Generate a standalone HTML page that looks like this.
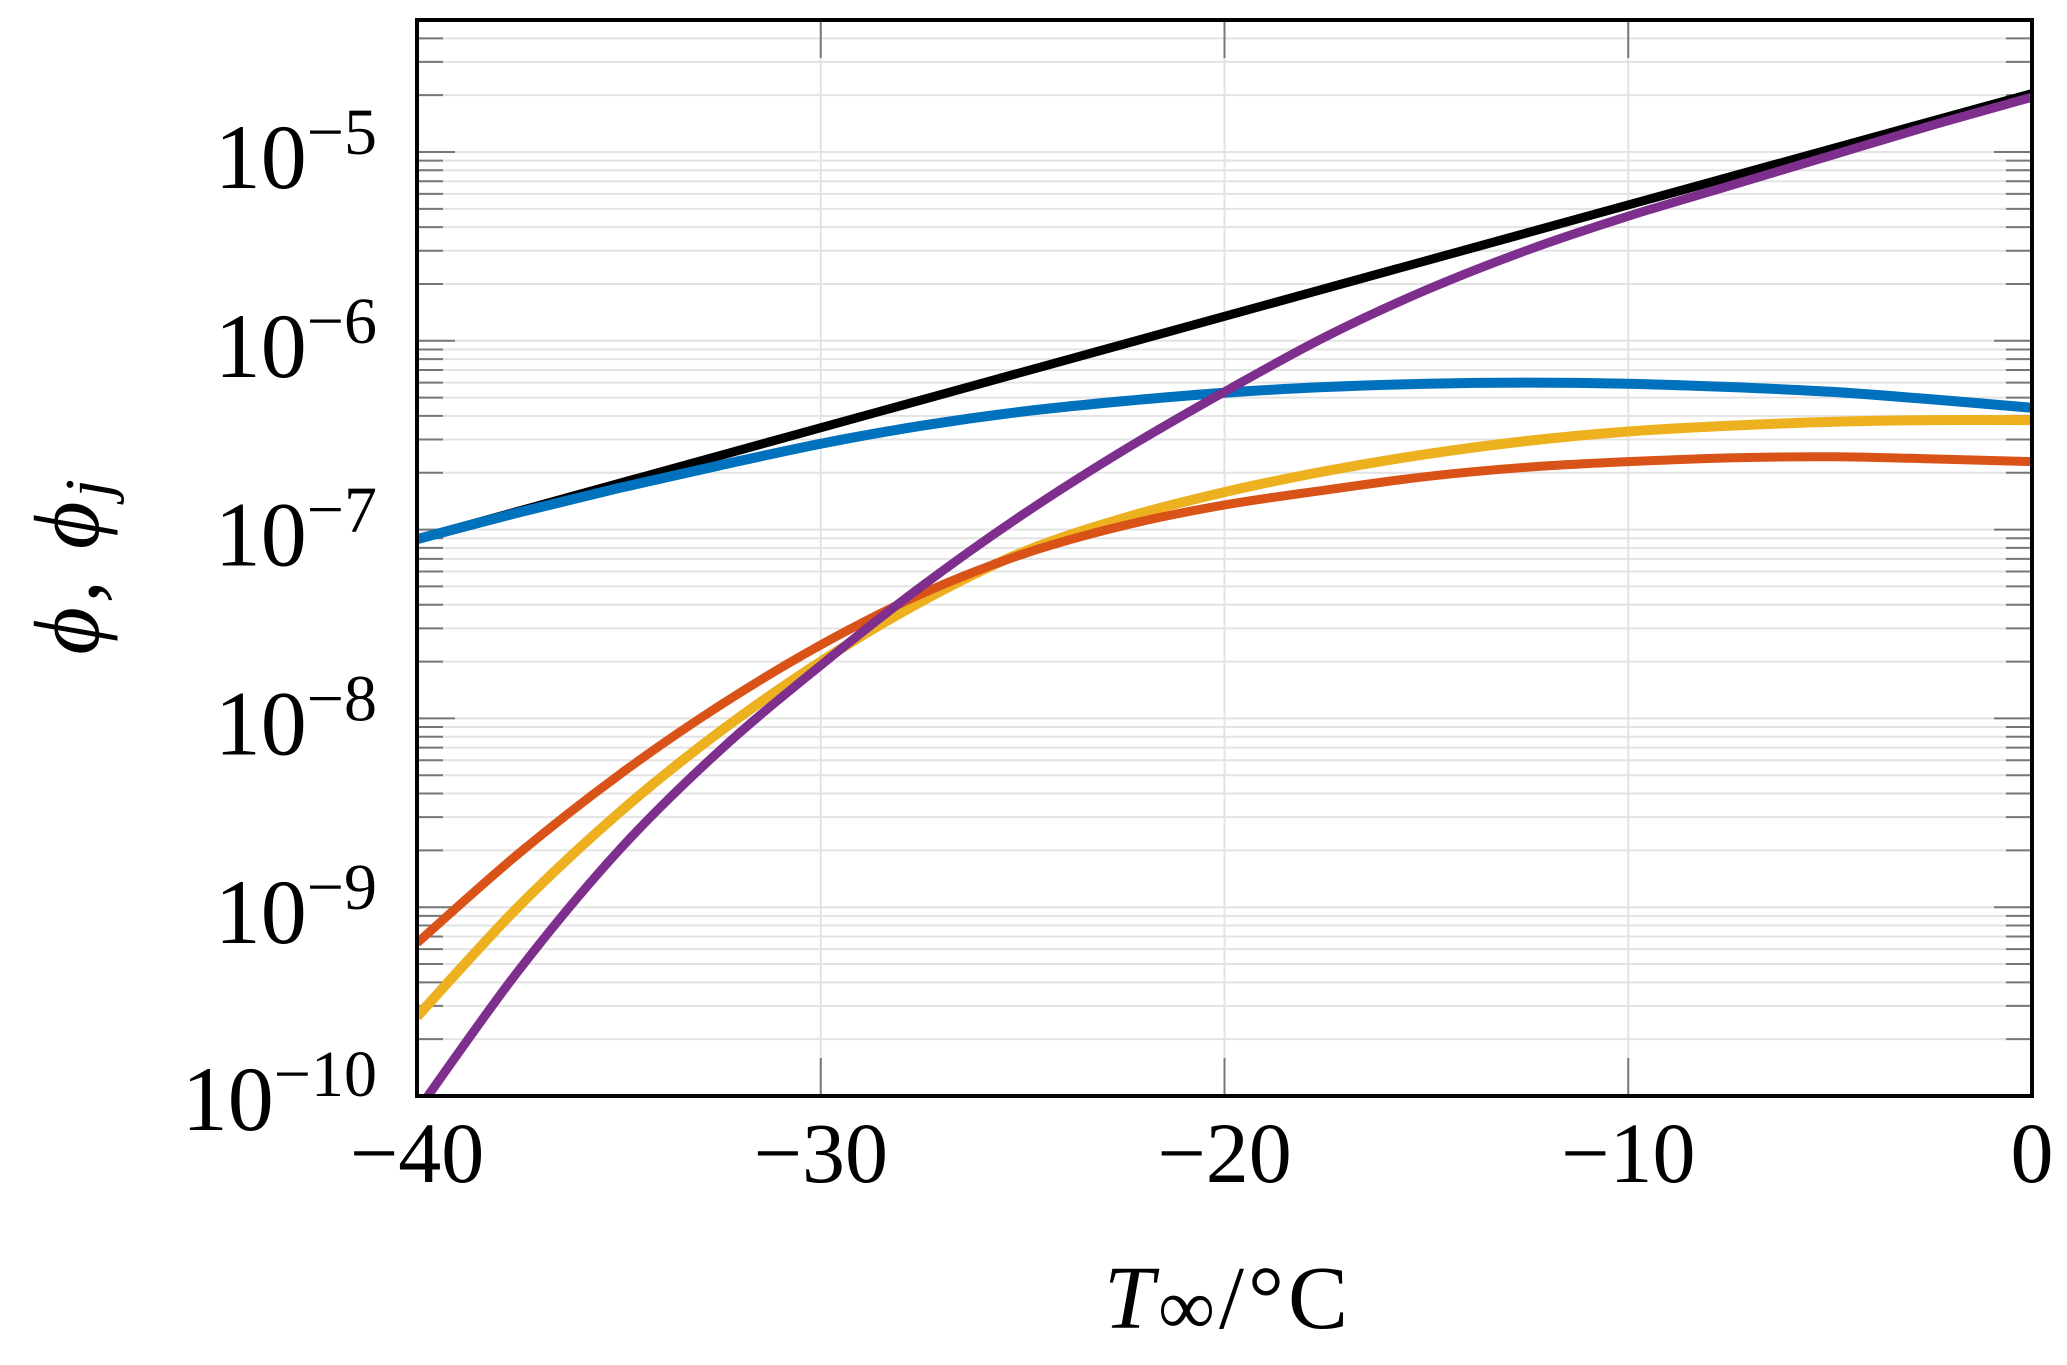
<!DOCTYPE html>
<html><head><meta charset="utf-8"><style>
html,body{margin:0;padding:0;background:#fff;}
svg{display:block;font-family:"Liberation Serif",serif;}
</style></head><body>
<svg id="chart" width="2067" height="1365" viewBox="0 0 2067 1365" xmlns="http://www.w3.org/2000/svg">
<defs><clipPath id="plotclip"><rect x="417" y="20" width="1615" height="1076"/></clipPath></defs>
<rect width="2067" height="1365" fill="#fff"/>
<g id="grid"></g>
<g id="ticks"></g>
<g id="series" clip-path="url(#plotclip)"></g>
<rect x="417" y="20" width="1615" height="1076" fill="none" stroke="#000" stroke-width="4"/>
<g id="labels"></g>
<text x="1104" y="1328" font-size="90" textLength="244" lengthAdjust="spacing"><tspan font-style="italic">T</tspan><tspan font-size="80" dy="6">∞</tspan><tspan dy="-6">/°C</tspan></text>
<text transform="translate(98,565) rotate(-90)" text-anchor="middle" font-size="92" font-style="italic" letter-spacing="4">ϕ, ϕ<tspan font-size="66" dy="12">j</tspan></text>
</svg>
<script>
const xTicks = [-40, -30, -20, -10, 0];
const xTickLabels = ["−40", "−30", "−20", "−10", "0"];
const yDecades = [-10, -9, -8, -7, -6, -5];
const yTickLabels = ["−10", "−9", "−8", "−7", "−6", "−5"];
const blackT = [-40, 0];
const blackPhi = [8.9e-8, 2.04e-5];
const temps = [-40,-37.5,-35,-32.5,-30,-27.5,-25,-22.5,-20,-17.5,-15,-12.5,-10,-7.5,-5,-2.5,0];
const bluePhi = [8.9e-8,1.23e-7,1.66e-7,2.19e-7,2.85e-7,3.55e-7,4.22e-7,4.79e-7,5.31e-7,5.69e-7,5.92e-7,6.00e-7,5.92e-7,5.69e-7,5.37e-7,4.90e-7,4.42e-7];
const redPhi = [6.46e-10,1.91e-9,5.01e-9,1.17e-8,2.45e-8,4.57e-8,7.41e-8,1.05e-7,1.35e-7,1.62e-7,1.91e-7,2.14e-7,2.29e-7,2.40e-7,2.43e-7,2.37e-7,2.29e-7];
const yellowPhi = [2.63e-10,1.00e-9,3.16e-9,8.51e-9,2.00e-8,4.17e-8,7.59e-8,1.15e-7,1.58e-7,2.04e-7,2.51e-7,2.95e-7,3.31e-7,3.55e-7,3.72e-7,3.80e-7,3.80e-7];
const purplePhi = [8.3e-11,4.57e-10,2.00e-9,6.76e-9,1.91e-8,5.01e-8,1.20e-7,2.63e-7,5.37e-7,1.05e-6,1.86e-6,3.02e-6,4.57e-6,6.61e-6,9.55e-6,1.38e-5,1.95e-5];

const X0=417, X1=2032, Y5=152, DEC=188.8, YTOP=20, YBOT=1096;
const NS="http://www.w3.org/2000/svg";
function xs(t){return X0+(t+40)/40*(X1-X0);}
function ys(v){return Y5-(Math.log10(v)+5)*DEC;}
function mk(tag, attrs, parent){const e=document.createElementNS(NS,tag);for(const k in attrs)e.setAttribute(k,attrs[k]);parent.appendChild(e);return e;}
const grid=document.getElementById('grid'), ticks=document.getElementById('ticks'), labels=document.getElementById('labels'), series=document.getElementById('series');

for(let d=-10; d<=-5; d++){
  for(let m=1;m<=9;m++){
    const v=m*Math.pow(10,d), y=ys(v);
    if(y<YTOP-1||y>YBOT+1) continue;
    const g=mk('line',{x1:X0,x2:X1,y1:y,y2:y,stroke:'#e3e3e3','stroke-width':2},grid);
    
    
    const len=m===1?38:26;
    const tl=mk('line',{x1:X0,x2:X0+len,y1:y,y2:y,stroke:'#777','stroke-width':2},ticks);
    
    
    const tr=mk('line',{x1:X1-len,x2:X1,y1:y,y2:y,stroke:'#777','stroke-width':2},ticks);
    
    
  }
}
xTicks.forEach((t,i)=>{
  const x=xs(t);
  if(i>0 && i<xTicks.length-1){
    const g=mk('line',{x1:x,x2:x,y1:YTOP,y2:YBOT,stroke:'#e3e3e3','stroke-width':2},grid);
    
    
  }
  const tb=mk('line',{x1:x,x2:x,y1:YBOT-38,y2:YBOT,stroke:'#777','stroke-width':2},ticks);
  
  
  const tt=mk('line',{x1:x,x2:x,y1:YTOP,y2:YTOP+38,stroke:'#777','stroke-width':2},ticks);
  
  
  const lb=mk('text',{x:x,y:1182,'text-anchor':'middle','font-size':86},labels);
  lb.textContent=xTickLabels[i];
  
  
});
yDecades.forEach((d,i)=>{
  const y=ys(Math.pow(10,d));
  const t=mk('text',{x:377,y:y+(d===-10?34:36),'text-anchor':'end','font-size':92},labels);
  
  
  const a=mk('tspan',{},t); a.textContent='10';
  const b=mk('tspan',{'font-size':66,dy:-34},t); b.textContent=yTickLabels[i];
});
function pathFor(T,V){
  const p=T.map((t,i)=>[xs(t),ys(V[i])]);
  if(p.length===2) return `M${p[0][0]},${p[0][1]}L${p[1][0]},${p[1][1]}`;
  let d=`M${p[0][0]},${p[0][1]}`;
  for(let i=0;i<p.length-1;i++){
    const p0=p[Math.max(0,i-1)],p1=p[i],p2=p[i+1],p3=p[Math.min(p.length-1,i+2)];
    const c1=[p1[0]+(p2[0]-p0[0])/6,p1[1]+(p2[1]-p0[1])/6];
    const c2=[p2[0]-(p3[0]-p1[0])/6,p2[1]-(p3[1]-p1[1])/6];
    d+=`C${c1[0]},${c1[1]} ${c2[0]},${c2[1]} ${p2[0]},${p2[1]}`;
  }
  return d;
}
const sBlack=mk('path',{d:pathFor(blackT,blackPhi),fill:'none',stroke:'#000','stroke-width':9},series);


const sBlue=mk('path',{d:pathFor(temps,bluePhi),fill:'none',stroke:'#0072BD','stroke-width':10},series);


const sYellow=mk('path',{d:pathFor(temps,yellowPhi),fill:'none',stroke:'#EDB120','stroke-width':10},series);


const sRed=mk('path',{d:pathFor(temps,redPhi),fill:'none',stroke:'#D95319','stroke-width':9},series);


const sPurple=mk('path',{d:pathFor(temps,purplePhi),fill:'none',stroke:'#7E2F8E','stroke-width':9},series);


</script>
</body></html>
